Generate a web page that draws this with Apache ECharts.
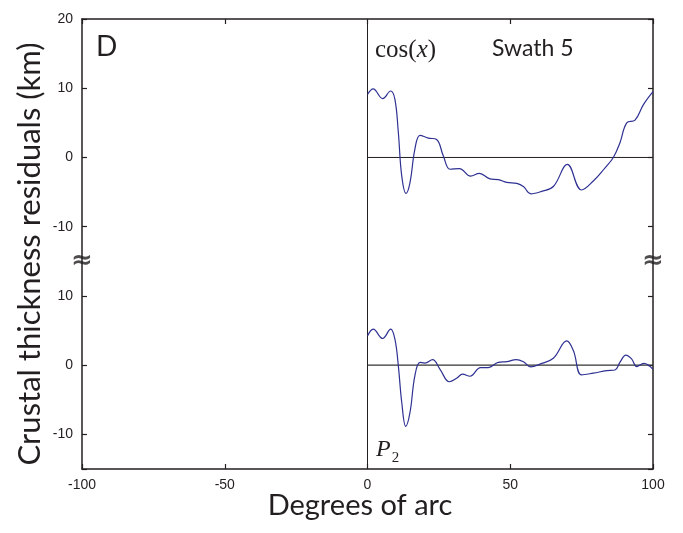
<!DOCTYPE html>
<html><head><meta charset="utf-8">
<script src="https://cdn.jsdelivr.net/npm/echarts@6/dist/echarts.min.js"></script>
<style>html,body{margin:0;padding:0;background:#fff}#c{width:683px;height:533px}</style>
</head><body><div id="c"></div>
<script>
// Upper panel (Swath 5, cos(x) residuals)
const topX = [0, 2.0, 5.3, 8.1, 9.6, 10.8, 12.0, 13.5, 14.9, 16.6, 18.4, 21.3, 24.2, 26.5, 28.9, 32.2, 36.1, 39.2, 42.9, 45.8, 48.8, 52.3, 54.6, 57.2, 61.0, 65.1, 70.0, 75.0, 79.1, 83.2, 86.1, 88.4, 90.8, 93.7, 96.6, 100];
const topY = [9.1, 9.9, 8.5, 9.6, 8.4, 3.6, -2.7, -5.2, -3.6, 1.2, 3.2, 2.8, 2.6, 0.3, -1.7, -1.6, -2.7, -2.3, -3.1, -3.2, -3.6, -3.75, -4.2, -5.25, -4.9, -4.2, -1.0, -4.7, -3.4, -1.5, 0.0, 2.1, 5.0, 5.4, 7.6, 9.5];
// Lower panel (P2 residuals)
const botX = [0, 2.0, 5.3, 8.1, 9.6, 10.8, 12.0, 13.4, 14.9, 16.6, 18.4, 20.1, 22.8, 25.4, 28.7, 31.2, 33.3, 35.9, 39.6, 42.3, 45.8, 48.8, 52.1, 54.6, 57.2, 60.4, 65.1, 69.8, 72.1, 75.0, 79.1, 83.8, 86.7, 88.4, 90.5, 92.5, 94.3, 96.8, 100];
const botY = [4.2, 5.2, 3.85, 5.2, 3.75, -0.1, -5.4, -8.85, -6.8, -1.5, 0.4, 0.3, 0.8, -0.6, -2.4, -1.9, -1.3, -1.6, -0.35, -0.35, 0.4, 0.5, 0.8, 0.5, -0.25, 0.15, 1.0, 3.5, 2.1, -1.4, -1.15, -0.8, -0.7, 0.4, 1.45, 0.9, -0.2, 0.25, -0.6];
const xTickValues = [-100, -50, 0, 50, 100];
const panelOffset = 30; // upper panel is drawn 30 units above the lower one on a shared axis
const breakValue = 15;

const chart = echarts.init(document.getElementById('c'), null, {renderer: 'canvas'});
const tickFont = {fontFamily: 'Liberation Sans', fontSize: 14, color: '#231f20'};
const axisLine = {onZero: false, lineStyle: {color: '#231f20', width: 1.5}};
const axisTick = {inside: true, length: 5, lineStyle: {color: '#231f20', width: 1.2}};
const yLabel = v => (v === -15 ? '' : String(v > breakValue ? v - panelOffset : v));

chart.setOption({
  animation: false,
  grid: {left: 82, right: 30, top: 19, bottom: 64, show: false},
  xAxis: [
    {type: 'value', min: -100, max: 100, interval: 50, position: 'bottom',
     axisLine, axisTick, splitLine: {show: false},
     axisLabel: Object.assign({margin: 9}, tickFont)},
    {type: 'value', min: -100, max: 100, interval: 50, position: 'top',
     axisLine, axisTick, splitLine: {show: false}, axisLabel: {show: false}}
  ],
  yAxis: [
    {type: 'value', min: -15, max: 50, splitNumber: 6, position: 'left',
     axisLine, axisTick, splitLine: {show: false},
     axisLabel: Object.assign({margin: 9, formatter: yLabel}, tickFont)},
    {type: 'value', min: -15, max: 50, splitNumber: 6, position: 'right',
     axisLine, axisTick, splitLine: {show: false}, axisLabel: {show: false}}
  ],
  series: [
    {type: 'line', data: [[0, -15], [0, 50]], showSymbol: false, silent: true,
     lineStyle: {color: '#231f20', width: 1}},
    {type: 'line', data: [[0, panelOffset], [100, panelOffset]], showSymbol: false, silent: true,
     lineStyle: {color: '#231f20', width: 1}},
    {type: 'line', data: [[0, 0], [100, 0]], showSymbol: false, silent: true,
     lineStyle: {color: '#333333', width: 1.4}},
    {type: 'line', data: topX.map((x, i) => [x, topY[i] + panelOffset]), smooth: 0.4,
     showSymbol: false, lineStyle: {color: '#2e3192', width: 1.2}},
    {type: 'line', data: botX.map((x, i) => [x, botY[i]]), smooth: 0.4,
     showSymbol: false, lineStyle: {color: '#2e3192', width: 1.2}},
    {type: 'scatter', data: [[-100, breakValue], [100, breakValue]], symbolSize: 1, clip: false, silent: true,
     itemStyle: {color: 'rgba(0,0,0,0)'}, z: 5,
     label: {show: true, position: 'inside', formatter: '\u2248', fontSize: 26, fontWeight: 'bold',
             fontFamily: 'DejaVu Sans', color: '#231f20'}}
  ],
  graphic: [
    {type: 'text', x: 30, y: 254, rotation: Math.PI / 2,
     style: {text: 'Crustal thickness residuals (km)', font: '31px Lato', fill: '#231f20',
             textAlign: 'center', textVerticalAlign: 'middle'}},
    {type: 'text', x: 360, y: 506,
     style: {text: 'Degrees of arc', font: '29px Lato', fill: '#231f20',
             textAlign: 'center', textVerticalAlign: 'middle'}},
    {type: 'text', x: 96, y: 47,
     style: {text: 'D', font: '28px Lato', fill: '#231f20', textAlign: 'left', textVerticalAlign: 'middle'}},
    {type: 'text', x: 492, y: 49,
     style: {text: 'Swath 5', font: '23px Lato', fill: '#231f20', textAlign: 'left', textVerticalAlign: 'middle'}},
    {type: 'text', x: 375, y: 50,
     style: {text: '{n|cos(}{i|x}{n|)}', fill: '#231f20', textAlign: 'left', textVerticalAlign: 'middle',
             rich: {n: {fontFamily: 'Liberation Serif', fontSize: 25, fill: '#231f20'},
                    i: {fontFamily: 'Liberation Serif', fontSize: 25, fontStyle: 'italic', fill: '#231f20'}}}},
    {type: 'text', x: 376, y: 450,
     style: {text: '{p|P}{s|2}', fill: '#231f20', textAlign: 'left', textVerticalAlign: 'middle',
             rich: {p: {fontFamily: 'Liberation Serif', fontSize: 24, fontStyle: 'italic', fill: '#231f20'},
                    s: {fontFamily: 'Liberation Serif', fontSize: 15, fill: '#231f20', padding: [16, 0, 0, 1]}}}}
  ]
});
</script></body></html>
